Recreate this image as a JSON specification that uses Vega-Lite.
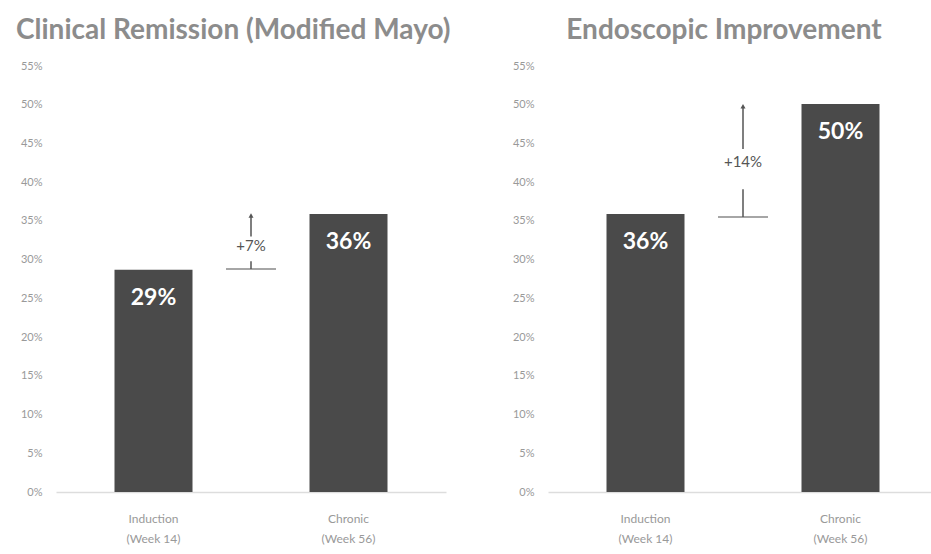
{
  "$schema": "https://vega.github.io/schema/vega-lite/v6.json",
  "padding": {"left": 16, "top": 17, "right": 0, "bottom": 5},
  "background": "white",
  "spacing": 61,
  "config": {
    "view": {"stroke": null},
    "font": "Lato",
    "title": {"font": "Lato", "fontSize": 28, "fontWeight": "bold", "color": "#8c8c8c", "offset": 15}
  },
  "datasets": {
    "bars": [
      {"panel": "Clinical Remission (Modified Mayo)", "phase": "Induction|(Week 14)", "value": 28.7, "label": "29%"},
      {"panel": "Clinical Remission (Modified Mayo)", "phase": "Chronic|(Week 56)", "value": 35.9, "label": "36%"},
      {"panel": "Endoscopic Improvement", "phase": "Induction|(Week 14)", "value": 35.9, "label": "36%"},
      {"panel": "Endoscopic Improvement", "phase": "Chronic|(Week 56)", "value": 50.1, "label": "50%"}
    ],
    "notes": [
      {"panel": "Clinical Remission (Modified Mayo)", "slot": "gap", "base": 28.8, "lowTop": 29.8, "mid": 31.7, "highBottom": 33.0, "top": 35.7, "label": "+7%"},
      {"panel": "Endoscopic Improvement", "slot": "gap", "base": 35.5, "lowTop": 39.1, "mid": 42.6, "highBottom": 44.3, "top": 49.8, "label": "+14%"}
    ]
  },
  "hconcat": [
    {
      "title": {"text": "Clinical Remission (Modified Mayo)", "anchor": "middle", "frame": "bounds"},
      "width": 390,
      "height": 426,
      "encoding": {
        "x": {
          "field": "phase", "type": "nominal",
          "scale": {"domain": ["Induction|(Week 14)", "gap", "Chronic|(Week 56)"], "paddingInner": 0.2, "paddingOuter": 0.6},
          "axis": {"title": null, "labelAngle": 0, "ticks": false, "domainColor": "#dddddd", "domainWidth": 1.5, "labelColor": "#999999", "labelFontSize": 12, "labelPadding": 21, "labelLineHeight": 20, "labelExpr": "datum.value == 'gap' ? '' : split(datum.value, '|')"}
        },
        "y": {
          "type": "quantitative",
          "scale": {"domain": [0, 55], "nice": false},
          "axis": {"title": null, "domain": false, "ticks": false, "grid": false, "values": [0,5,10,15,20,25,30,35,40,45,50,55], "labelExpr": "datum.value + '%'", "labelColor": "#999999", "labelFontSize": 11, "labelPadding": 14}
        }
      },
      "layer": [
        {"data": {"name": "bars"}, "transform": [{"filter": "datum.panel == 'Clinical Remission (Modified Mayo)'"}],
         "mark": {"type": "bar", "color": "#4a4a4a"},
         "encoding": {"y": {"field": "value", "type": "quantitative"}}},
        {"data": {"name": "bars"}, "transform": [{"filter": "datum.panel == 'Clinical Remission (Modified Mayo)'"}],
         "mark": {"type": "text", "color": "white", "fontSize": 23, "fontWeight": "bold", "baseline": "top", "dy": 17},
         "encoding": {"y": {"field": "value", "type": "quantitative"}, "text": {"field": "label"}}},
        {"data": {"name": "notes"}, "transform": [{"filter": "datum.panel == 'Clinical Remission (Modified Mayo)'"}],
         "mark": {"type": "tick", "color": "#555555", "size": 50, "thickness": 1.5, "orient": "horizontal"},
         "encoding": {"x": {"field": "slot"}, "y": {"field": "base", "type": "quantitative"}}},
        {"data": {"name": "notes"}, "transform": [{"filter": "datum.panel == 'Clinical Remission (Modified Mayo)'"}],
         "mark": {"type": "rule", "color": "#555555", "strokeWidth": 1.5},
         "encoding": {"x": {"field": "slot"}, "y": {"field": "base", "type": "quantitative"}, "y2": {"field": "lowTop"}}},
        {"data": {"name": "notes"}, "transform": [{"filter": "datum.panel == 'Clinical Remission (Modified Mayo)'"}],
         "mark": {"type": "rule", "color": "#555555", "strokeWidth": 1.5},
         "encoding": {"x": {"field": "slot"}, "y": {"field": "highBottom", "type": "quantitative"}, "y2": {"field": "top"}}},
        {"data": {"name": "notes"}, "transform": [{"filter": "datum.panel == 'Clinical Remission (Modified Mayo)'"}],
         "mark": {"type": "point", "shape": "triangle-up", "filled": true, "color": "#555555", "size": 25, "opacity": 1},
         "encoding": {"x": {"field": "slot"}, "y": {"field": "top", "type": "quantitative"}}},
        {"data": {"name": "notes"}, "transform": [{"filter": "datum.panel == 'Clinical Remission (Modified Mayo)'"}],
         "mark": {"type": "text", "color": "#555555", "fontSize": 15},
         "encoding": {"x": {"field": "slot"}, "y": {"field": "mid", "type": "quantitative"}, "text": {"field": "label"}}}
      ]
    },
    {
      "title": {"text": "Endoscopic Improvement", "anchor": "middle", "frame": "group", "dx": -19},
      "width": 390,
      "height": 426,
      "encoding": {
        "x": {
          "field": "phase", "type": "nominal",
          "scale": {"domain": ["Induction|(Week 14)", "gap", "Chronic|(Week 56)"], "paddingInner": 0.2, "paddingOuter": 0.6},
          "axis": {"title": null, "labelAngle": 0, "ticks": false, "domainColor": "#dddddd", "domainWidth": 1.5, "labelColor": "#999999", "labelFontSize": 12, "labelPadding": 21, "labelLineHeight": 20, "labelExpr": "datum.value == 'gap' ? '' : split(datum.value, '|')"}
        },
        "y": {
          "type": "quantitative",
          "scale": {"domain": [0, 55], "nice": false},
          "axis": {"title": null, "domain": false, "ticks": false, "grid": false, "values": [0,5,10,15,20,25,30,35,40,45,50,55], "labelExpr": "datum.value + '%'", "labelColor": "#999999", "labelFontSize": 11, "labelPadding": 14}
        }
      },
      "layer": [
        {"data": {"name": "bars"}, "transform": [{"filter": "datum.panel == 'Endoscopic Improvement'"}],
         "mark": {"type": "bar", "color": "#4a4a4a"},
         "encoding": {"y": {"field": "value", "type": "quantitative"}}},
        {"data": {"name": "bars"}, "transform": [{"filter": "datum.panel == 'Endoscopic Improvement'"}],
         "mark": {"type": "text", "color": "white", "fontSize": 23, "fontWeight": "bold", "baseline": "top", "dy": 17},
         "encoding": {"y": {"field": "value", "type": "quantitative"}, "text": {"field": "label"}}},
        {"data": {"name": "notes"}, "transform": [{"filter": "datum.panel == 'Endoscopic Improvement'"}],
         "mark": {"type": "tick", "color": "#555555", "size": 50, "thickness": 1.5, "orient": "horizontal"},
         "encoding": {"x": {"field": "slot"}, "y": {"field": "base", "type": "quantitative"}}},
        {"data": {"name": "notes"}, "transform": [{"filter": "datum.panel == 'Endoscopic Improvement'"}],
         "mark": {"type": "rule", "color": "#555555", "strokeWidth": 1.5},
         "encoding": {"x": {"field": "slot"}, "y": {"field": "base", "type": "quantitative"}, "y2": {"field": "lowTop"}}},
        {"data": {"name": "notes"}, "transform": [{"filter": "datum.panel == 'Endoscopic Improvement'"}],
         "mark": {"type": "rule", "color": "#555555", "strokeWidth": 1.5},
         "encoding": {"x": {"field": "slot"}, "y": {"field": "highBottom", "type": "quantitative"}, "y2": {"field": "top"}}},
        {"data": {"name": "notes"}, "transform": [{"filter": "datum.panel == 'Endoscopic Improvement'"}],
         "mark": {"type": "point", "shape": "triangle-up", "filled": true, "color": "#555555", "size": 25, "opacity": 1},
         "encoding": {"x": {"field": "slot"}, "y": {"field": "top", "type": "quantitative"}}},
        {"data": {"name": "notes"}, "transform": [{"filter": "datum.panel == 'Endoscopic Improvement'"}],
         "mark": {"type": "text", "color": "#555555", "fontSize": 15},
         "encoding": {"x": {"field": "slot"}, "y": {"field": "mid", "type": "quantitative"}, "text": {"field": "label"}}}
      ]
    }
  ]
}
